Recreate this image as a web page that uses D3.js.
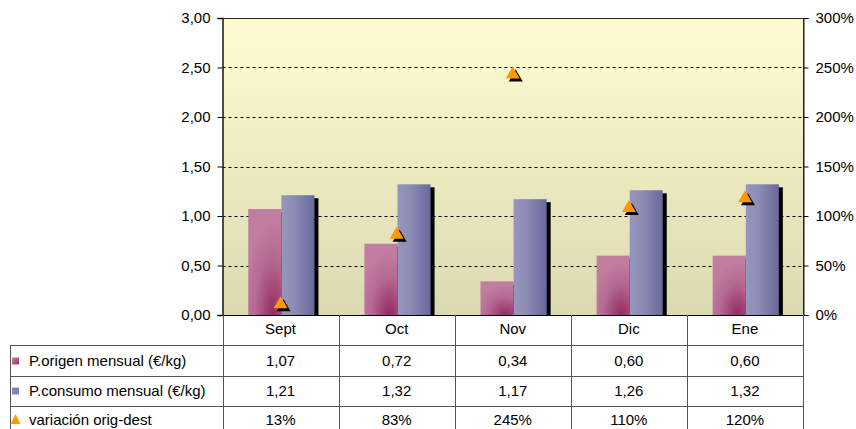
<!DOCTYPE html>
<html>
<head>
<meta charset="utf-8">
<script src="https://cdn.jsdelivr.net/npm/d3@7/dist/d3.min.js"></script>
<style>
  html, body { margin: 0; padding: 0; background: #fff; }
  svg { display: block; font-family: "Liberation Sans", Arial, sans-serif; }
</style>
</head>
<body>
<svg id="chart" width="856" height="429"></svg>
<script>
const categories = ["Sept", "Oct", "Nov", "Dic", "Ene"];
const origen = [1.07, 0.72, 0.34, 0.60, 0.60];
const consumo = [1.21, 1.32, 1.17, 1.26, 1.32];
const variacion = [13, 83, 245, 110, 120];
const seriesNames = ["P.origen mensual (€/kg)", "P.consumo mensual (€/kg)", "variación orig-dest"];
const leftTicks = [0, 0.5, 1, 1.5, 2, 2.5, 3];
const rightTicks = [0, 50, 100, 150, 200, 250, 300];

const svg = d3.select("#chart");
const L = 222.5, R = 803, T = 18, B = 315;
const fontSize = 15;

const loc = d3.formatLocale({decimal: ",", thousands: ".", grouping: [3], currency: ["", "€"]});
const f2 = loc.format(".2f");

const x = d3.scaleBand().domain(categories).range([L, R]).padding(0);
const y = d3.scaleLinear().domain([0, 3]).range([B, T]);
const y2 = d3.scaleLinear().domain([0, 300]).range([B, T]);

const defs = svg.append("defs");
const bg = defs.append("linearGradient").attr("id", "bg").attr("x1", 0).attr("y1", 0).attr("x2", 0).attr("y2", 1);
bg.append("stop").attr("offset", 0).attr("stop-color", "#fefdd0");
bg.append("stop").attr("offset", 1).attr("stop-color", "#dbd9b0");

const pg = defs.append("radialGradient").attr("id", "pink").attr("cx", 0.75).attr("cy", 1).attr("r", 0.9)
  .attr("gradientUnits", "objectBoundingBox");
pg.append("stop").attr("offset", 0).attr("stop-color", "#942a63");
pg.append("stop").attr("offset", 0.6).attr("stop-color", "#b46a92");
pg.append("stop").attr("offset", 1).attr("stop-color", "#c17d9f");

const bgr = defs.append("linearGradient").attr("id", "blue").attr("x1", 0).attr("y1", 0).attr("x2", 1).attr("y2", 0);
bgr.append("stop").attr("offset", 0).attr("stop-color", "#9797bd");
bgr.append("stop").attr("offset", 0.4).attr("stop-color", "#8b8bb4");
bgr.append("stop").attr("offset", 1).attr("stop-color", "#68689a");

const pk = defs.append("linearGradient").attr("id", "pinkKey").attr("x1", 0).attr("y1", 0).attr("x2", 1).attr("y2", 1);
pk.append("stop").attr("offset", 0).attr("stop-color", "#c383a5");
pk.append("stop").attr("offset", 1).attr("stop-color", "#9a3368");

defs.append("clipPath").attr("id", "plotClip").append("rect")
  .attr("x", L).attr("y", T).attr("width", R - L).attr("height", B - T);

// plot background
svg.append("rect").attr("x", L).attr("y", T).attr("width", R - L).attr("height", B - T).attr("fill", "url(#bg)");

// gridlines
svg.append("g").selectAll("line").data(leftTicks.filter(d => d > 0 && d < 3)).join("line")
  .attr("x1", L).attr("x2", R).attr("y1", d => Math.round(y(d)) + 0.5).attr("y2", d => Math.round(y(d)) + 0.5)
  .attr("stroke", "#000").attr("stroke-width", 1).attr("stroke-dasharray", "3,3");

// bars
const bw = x.bandwidth();
const pOff = 0.222 * bw, barW = 0.285 * bw;
const plot = svg.append("g").attr("clip-path", "url(#plotClip)");
const sdx = 4, sdy = 3;

// shadows
plot.append("g").selectAll("rect").data(categories).join("rect")
  .attr("x", (d, i) => x(d) + pOff + sdx).attr("y", (d, i) => y(origen[i]) + sdy)
  .attr("width", barW).attr("height", (d, i) => B - y(origen[i])).attr("fill", "#000");
plot.append("g").selectAll("rect").data(categories).join("rect")
  .attr("x", (d, i) => x(d) + pOff + barW + sdx).attr("y", (d, i) => y(consumo[i]) + sdy)
  .attr("width", barW).attr("height", (d, i) => B - y(consumo[i])).attr("fill", "#000");

plot.append("g").selectAll("rect").data(categories).join("rect")
  .attr("x", (d, i) => x(d) + pOff).attr("y", (d, i) => y(origen[i]))
  .attr("width", barW).attr("height", (d, i) => B - y(origen[i])).attr("fill", "url(#pink)");
plot.append("g").selectAll("rect").data(categories).join("rect")
  .attr("x", (d, i) => x(d) + pOff + barW).attr("y", (d, i) => y(consumo[i]))
  .attr("width", barW).attr("height", (d, i) => B - y(consumo[i])).attr("fill", "url(#blue)");

// triangles
const tri = (cx, cy, w, h) => `M${cx - w / 2},${cy + h / 2}L${cx},${cy - h / 2}L${cx + w / 2},${cy + h / 2}Z`;
const tg = svg.append("g");
tg.selectAll("path.sh").data(categories).join("path").attr("class", "sh")
  .attr("d", (d, i) => tri(x(d) + bw / 2 + 3, y2(variacion[i]) + 3, 14, 12)).attr("fill", "#000");
tg.selectAll("path.tr").data(categories).join("path").attr("class", "tr")
  .attr("d", (d, i) => tri(x(d) + bw / 2, y2(variacion[i]), 14, 12)).attr("fill", "#ff9900");

// borders
svg.append("line").attr("x1", L).attr("x2", R).attr("y1", T + 0.5).attr("y2", T + 0.5).attr("stroke", "#222");
svg.append("line").attr("x1", R + 0.5).attr("x2", R + 0.5).attr("y1", T).attr("y2", B).attr("stroke", "#222");

// left axis
const ax = svg.append("g").attr("transform", `translate(${L},0)`)
  .call(d3.axisLeft(y).tickValues(leftTicks).tickFormat(f2).tickSize(5).tickPadding(7));
ax.select(".domain").attr("stroke", "#222").attr("stroke-width", 1.6);
ax.selectAll("text").attr("font-size", fontSize).attr("font-family", "Liberation Sans, Arial, sans-serif").attr("fill", "#000");

// right axis
const ax2 = svg.append("g").attr("transform", `translate(${R + 0.5},0)`)
  .call(d3.axisRight(y2).tickValues(rightTicks).tickFormat(d => d + "%").tickSize(5).tickPadding(7));
ax2.select(".domain").attr("stroke", "#222");
ax2.selectAll("text").attr("font-size", fontSize).attr("font-family", "Liberation Sans, Arial, sans-serif").attr("fill", "#000");

// bottom axis line
svg.append("line").attr("x1", L - 5).attr("x2", R + 5).attr("y1", B + 0.5).attr("y2", B + 0.5).attr("stroke", "#000");

// data table
const tblL = 10.5, rowTops = [315, 345, 376, 406], rowBottom = 440;
const grid = svg.append("g").attr("stroke", "#555").attr("stroke-width", 1);
const bounds = categories.map(d => x(d)).concat([R]);
grid.selectAll("line.v").data(bounds).join("line").attr("class", "v")
  .attr("x1", d => Math.round(d) + 0.5).attr("x2", d => Math.round(d) + 0.5)
  .attr("y1", B).attr("y2", rowBottom);
grid.selectAll("line.h").data(rowTops.slice(1)).join("line").attr("class", "h")
  .attr("x1", tblL).attr("x2", R + 0.5).attr("y1", d => d + 0.5).attr("y2", d => d + 0.5);
grid.append("line").attr("x1", tblL).attr("x2", tblL).attr("y1", rowTops[1]).attr("y2", rowBottom);

const txt = svg.append("g").attr("font-size", fontSize).attr("fill", "#000").attr("text-anchor", "middle");
const rowMid = [329, 361, 391, 420];
txt.selectAll("text.h").data(categories).join("text").attr("class", "h")
  .attr("x", d => x(d) + bw / 2).attr("y", rowMid[0]).attr("dy", "0.35em").text(d => d);
const rows = [origen.map(f2), consumo.map(f2), variacion.map(d => d + "%")];
rows.forEach((r, ri) => {
  txt.selectAll("text.r" + ri).data(r).join("text").attr("class", "r" + ri)
    .attr("x", (d, i) => x(categories[i]) + bw / 2).attr("y", rowMid[ri + 1]).attr("dy", "0.35em").text(d => d);
});

// legend labels
const lg = svg.append("g").attr("font-size", fontSize).attr("fill", "#000");
lg.selectAll("text").data(seriesNames).join("text")
  .attr("x", 29).attr("y", (d, i) => rowMid[i + 1]).attr("dy", "0.35em").text(d => d);
lg.append("rect").attr("x", 12).attr("y", rowMid[1] - 3.5).attr("width", 7).attr("height", 7).attr("fill", "url(#pinkKey)");
lg.append("rect").attr("x", 12).attr("y", rowMid[2] - 3.5).attr("width", 7).attr("height", 7).attr("fill", "#8585b0");
lg.append("path").attr("d", tri(15.5, rowMid[3] - 1, 10, 10)).attr("fill", "#ff9900");
</script>
</body>
</html>
